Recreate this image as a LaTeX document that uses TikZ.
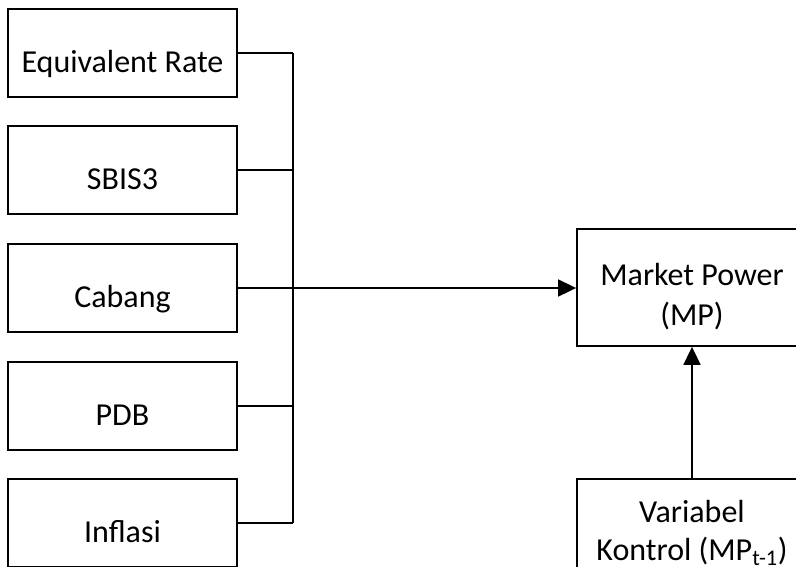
\documentclass[tikz,border=0pt]{standalone}
\usepackage{fontspec}
\setmainfont{Carlito}
\usetikzlibrary{arrows.meta}
\begin{document}
\begin{tikzpicture}[x=1pt,y=-1pt,
  box/.style={draw=black,line width=1.8pt,minimum width=229pt,minimum height=88pt,inner sep=0pt},
  bigbox/.style={draw=black,line width=1.8pt,minimum width=230pt,minimum height=117pt,inner sep=0pt},
  lbl/.style={anchor=base,inner sep=0pt,font=\fontsize{32}{40}\selectfont},
  wire/.style={line width=1.8pt},
  arr/.style={line width=1.8pt,-{Triangle[length=18pt,width=17pt]}}]
\useasboundingbox (0,0) rectangle (796,566);
\clip (0,0) rectangle (796,566);
% left boxes
\node[box] (er) at (122.5,53) {};
\node[box] (sb) at (122.5,170) {};
\node[box] (cb) at (122.5,288) {};
\node[box] (pdb) at (122.5,406) {};
\node[box] (inf) at (122.5,523) {};
\node[lbl] (ert) at (122.5,72) {Equivalent Rate};
\node[lbl] (sbt) at (122.5,189) {SBIS3};
\node[lbl] (cbt) at (122.5,307) {Cabang};
\node[lbl] (pdbt) at (122.5,425) {PDB};
\node[lbl] (inft) at (122.5,542) {Inflasi};
% right boxes
\node[bigbox] (mp) at (692,287.5) {};
\node[lbl] (mpt1) at (692,285) {Market Power};
\node[lbl] (mpt2) at (692,325) {(MP)};
\node[bigbox] (vk) at (692,537.5) {};
\node[lbl] (vkt1) at (692,522) {Variabel};
\node[lbl] (vkt2) at (692,560) {Kontrol (MP\textsubscript{t-1})};
% bus
\coordinate (bt) at (293,53);
\coordinate (bb) at (293,523);
\draw[wire] (bt) -- (bb);
\draw[wire] (er.east) -- (er.east -| bt);
\draw[wire] (sb.east) -- (sb.east -| bt);
\draw[wire] (pdb.east) -- (pdb.east -| bt);
\draw[wire] (inf.east) -- (inf.east -| bt);
\draw[arr] (cb.east) -- (cb.east -| mp.west);
\draw[arr] (vk.north) -- (mp.south);
\end{tikzpicture}
\end{document}
